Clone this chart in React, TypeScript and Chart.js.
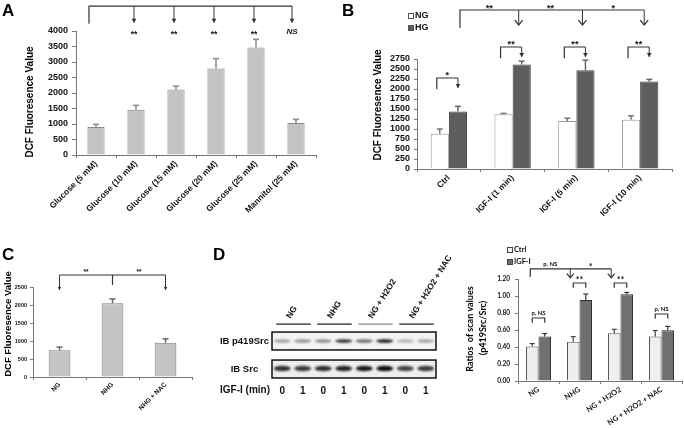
import React, { useEffect, useRef } from 'react';
import { Chart, registerables } from 'chart.js';

Chart.register(...registerables);

const SANS = '"Liberation Sans", Arial, Helvetica, sans-serif';
const CAL = 'Lato, "Liberation Sans", sans-serif';

// ---------------- Panel A ----------------
const aTitle = 'DCF Fluoresence Value';
const aLabels = ['Glucose (5 mM)', 'Glucose (10 mM)', 'Glucose (15 mM)', 'Glucose (20 mM)', 'Glucose (25 mM)', 'Mannitol (25 mM)'];
const aValues = [900, 1460, 2110, 2790, 3470, 1030];
const aErrors = [90, 140, 110, 320, 260, 120];
const aSig = ['**', '**', '**', '**', 'NS'];
const aMax = 4000;
const aStep = 500;

// ---------------- Panel B ----------------
const bTitle = 'DCF Fluoresence Value';
const bLabels = ['Ctrl', 'IGF-I (1 min)', 'IGF-I (5 min)', 'IGF-I (10 min)'];
const bSeries = ['NG', 'HG'];
const bNG = [880, 1370, 1200, 1230];
const bNGErr = [120, 20, 70, 100];
const bHG = [1440, 2610, 2470, 2190];
const bHGErr = [125, 85, 250, 50];
const bPairSig = ['*', '**', '**', '**'];
const bTrendSig = ['**', '**', '*'];
const bMax = 2750;
const bStep = 250;

// ---------------- Panel C ----------------
const cTitle = 'DCF Fluoresence Value';
const cLabels = ['NG', 'NHG', 'NHG + NAC'];
const cValues = [740, 2050, 950];
const cErrors = [90, 120, 110];
const cSig = ['**', '**'];
const cMax = 2500;
const cStep = 500;

// ---------------- Panel D blot ----------------
const blotGroups = ['NG', 'NHG', 'NG + H2O2', 'NG + H2O2 + NAC'];
const blotRows = ['IB p419Src', 'IB Src'];
const blotLanes = ['0', '1', '0', '1', '0', '1', '0', '1'];
const blotDoseTitle = 'IGF-I (min)';
const p419Src = [0.35, 0.42, 0.45, 0.85, 0.6, 0.95, 0.28, 0.35];
const totalSrc = [0.85, 0.8, 0.85, 0.9, 0.95, 1.0, 0.75, 0.8];

// ---------------- Panel D chart ----------------
const dTitle = ['Ratios  of scan values', '(p419Src/Src)'];
const dLabels = ['NG', 'NHG', 'NG + H2O2', 'NG + H2O2 + NAC'];
const dSeries = ['Ctrl', 'IGF-I'];
const dCtrl = [0.405, 0.462, 0.563, 0.523];
const dCtrlErr = [0.035, 0.06, 0.045, 0.07];
const dIGF = [0.523, 0.953, 1.022, 0.598];
const dIGFErr = [0.035, 0.07, 0.02, 0.045];
const dPairSig = ['p, NS', '**', '**', 'p, NS'];
const dTrendSig = ['p, NS', '*'];
const dMax = 1.2;
const dStep = 0.2;

// ---------------- drawing helpers ----------------
const fnt = (size: number, family = SANS, style = 'bold') => `${style} ${size}px ${family}`;

function text(ctx: any, s: string, x: number, y: number, f: string, o: any = {}) {
  ctx.save();
  ctx.font = f;
  ctx.fillStyle = o.color ?? '#111';
  ctx.textAlign = o.align ?? 'center';
  ctx.textBaseline = o.baseline ?? 'middle';
  ctx.translate(x, y);
  if (o.rotate) ctx.rotate(o.rotate);
  ctx.fillText(s, 0, 0);
  ctx.restore();
}

function sig(ctx: any, s: string, x: number, yc: number, f: string, size: number) {
  const stars = /^\*+$/.test(s);
  text(ctx, s, x, stars ? yc + 0.62 * size : yc, f, { baseline: stars ? 'alphabetic' : 'middle' });
}

function path(ctx: any, pts: number[][], color = '#333', w = 1) {
  ctx.save();
  ctx.strokeStyle = color;
  ctx.lineWidth = w;
  ctx.beginPath();
  pts.forEach(([x, y], i) => (i ? ctx.lineTo(x, y) : ctx.moveTo(x, y)));
  ctx.stroke();
  ctx.restore();
}

function arrowDown(ctx: any, x: number, y0: number, y1: number, kind: string, color = '#333', size = 4) {
  path(ctx, [[x, y0], [x, y1]], color, 1);
  if (kind === 'filled') {
    ctx.save();
    ctx.fillStyle = color;
    ctx.beginPath();
    ctx.moveTo(x - size * 0.6, y1 - size);
    ctx.lineTo(x + size * 0.6, y1 - size);
    ctx.lineTo(x, y1);
    ctx.closePath();
    ctx.fill();
    ctx.restore();
  } else if (kind === 'open') {
    path(ctx, [[x - size, y1 - size * 1.2], [x, y1], [x + size, y1 - size * 1.2]], color, 1.2);
  }
}

function letter(ctx: any, s: string, x: number, y: number) {
  text(ctx, s, x, y, fnt(17), { align: 'left', baseline: 'alphabetic', color: '#000' });
}

const errorBars = {
  id: 'errorBars',
  afterDatasetsDraw(chart: any) {
    const ctx = chart.ctx;
    const ys = chart.scales.y;
    chart.data.datasets.forEach((ds: any, di: number) => {
      if (!ds.errors) return;
      const meta = chart.getDatasetMeta(di);
      meta.data.forEach((bar: any, i: number) => {
        const v = ds.data[i];
        const top = ys.getPixelForValue(v + ds.errors[i]);
        const base = ys.getPixelForValue(v);
        const cap = ds.errorCap ?? 3;
        path(ctx, [[bar.x, base], [bar.x, top]], ds.errorColor, ds.errorWidth ?? 1.5);
        path(ctx, [[bar.x - cap, top], [bar.x + cap, top]], ds.errorColor, ds.errorWidth ?? 1.5);
      });
    });
  },
};

function baseOptions(o: any) {
  const yTicks: any = {
    stepSize: o.yStep,
    maxTicksLimit: 30,
    autoSkip: false,
    padding: o.tickPad,
    color: '#111',
    font: { family: o.family, size: o.tick, weight: 'bold' },
    callback: o.fmt ?? ((v: any) => String(v)),
  };
  return {
    responsive: false,
    animation: false,
    devicePixelRatio: 1,
    events: [],
    layout: { padding: { top: o.padTop, right: o.padRight, left: 0, bottom: 0 } },
    plugins: { legend: { display: false }, tooltip: { enabled: false }, title: { display: false } },
    scales: {
      x: {
        afterFit: (s: any) => { s.height = o.xHeight; },
        grid: { drawOnChartArea: false, offset: true, tickLength: 3, color: '#777', lineWidth: 1 },
        border: { color: '#777', width: 1 },
        ticks: {
          autoSkip: false,
          minRotation: o.rot,
          maxRotation: o.rot,
          padding: 1,
          color: '#111',
          font: { family: o.family, size: o.label, weight: 'bold' },
        },
      },
      y: {
        min: 0,
        max: o.yMax,
        afterFit: (s: any) => { s.width = o.yWidth; },
        grid: { drawOnChartArea: false, tickLength: o.tl, color: '#777', lineWidth: 1 },
        border: { color: '#777', width: 1 },
        ticks: yTicks,
      },
    },
  };
}

// ---------------- configs ----------------
const configA = () => ({
  type: 'bar',
  data: {
    labels: aLabels,
    datasets: [{
      data: aValues, errors: aErrors, backgroundColor: '#c4c4c4', borderColor: '#8a8a8a', borderWidth: 1,
      errorColor: '#8a8a8a', errorCap: 3, barPercentage: 0.43, categoryPercentage: 1,
    }],
  },
  options: baseOptions({ padTop: 31, padRight: 24, yWidth: 76, xHeight: 65, yMax: aMax, yStep: aStep, tick: 9, label: 8.5, rot: 45, family: SANS, tl: 4, tickPad: 4 }),
  plugins: [errorBars, {
    id: 'annA',
    afterDraw(chart: any) {
      const ctx = chart.ctx, xs = chart.scales.x, ys = chart.scales.y;
      letter(ctx, 'A', 2, 16);
      text(ctx, aTitle, 30, 102, fnt(10), { rotate: -Math.PI / 2, color: '#000' });
      const px = aLabels.map((_, i) => xs.getPixelForValue(i));
      const yl = ys.getPixelForValue(4800), yf = ys.getPixelForValue(4230), yt = ys.getPixelForValue(4270), yS = ys.getPixelForValue(3990);
      const ax = px.map((x, i) => (i === 0 ? x - 7 : x - 2 - (i === 5 ? 2 : 0)));
      path(ctx, [[ax[0], yf], [ax[0], yl], [ax[5], yl]], '#333', 1.2);
      for (let i = 1; i < 6; i++) {
        arrowDown(ctx, ax[i], yl, yt, 'filled', '#333', 4);
        const s = aSig[i - 1];
        if (s === 'NS') text(ctx, s, ax[i], yS, fnt(8, SANS, 'italic bold'));
        else sig(ctx, s, ax[i], yS, fnt(8.5), 8.5);
      }
    },
  }],
});

const configB = () => ({
  type: 'bar',
  data: {
    labels: bLabels,
    datasets: [
      { label: bSeries[0], data: bNG, errors: bNGErr, backgroundColor: '#ffffff', borderColor: '#9a9a9a', borderWidth: 1, errorColor: '#777', errorCap: 3, barPercentage: 1, categoryPercentage: 0.57 },
      { label: bSeries[1], data: bHG, errors: bHGErr, backgroundColor: '#5e5e5e', borderColor: '#404040', borderWidth: 1, errorColor: '#666', errorCap: 3, barPercentage: 1, categoryPercentage: 0.57 },
    ],
  },
  options: baseOptions({ padTop: 59, padRight: 12, yWidth: 77, xHeight: 51, yMax: bMax, yStep: bStep, tick: 9, label: 8.5, rot: 45, family: SANS, tl: 3, tickPad: 4 }),
  plugins: [errorBars, {
    id: 'annB',
    afterDraw(chart: any) {
      const ctx = chart.ctx, ys = chart.scales.y;
      letter(ctx, 'B', 2, 16);
      chart.data.datasets.forEach((ds: any, i: number) => {
        const y = 16 + i * 12;
        ctx.save();
        ctx.fillStyle = ds.backgroundColor;
        ctx.fillRect(68.5, y - 2.5, 5, 5);
        ctx.strokeStyle = '#555';
        ctx.lineWidth = 1;
        ctx.strokeRect(68.5, y - 2.5, 5, 5);
        ctx.restore();
        text(ctx, ds.label, 75, y, fnt(9), { align: 'left' });
      });
      text(ctx, bTitle, 38, 105, fnt(10), { rotate: -Math.PI / 2, color: '#000' });
      const ng = chart.getDatasetMeta(0).data, hg = chart.getDatasetMeta(1).data;
      const yl = ys.getPixelForValue(3975), yf = ys.getPixelForValue(3525), yt = ys.getPixelForValue(3600), yS = ys.getPixelForValue(4100);
      const ax = [hg[0].x + 2, hg[1].x - 3, hg[2].x - 3, hg[3].x - 5];
      path(ctx, [[ax[0], yf], [ax[0], yl], [ax[3], yl]], '#333', 1.2);
      for (let i = 1; i < 4; i++) arrowDown(ctx, ax[i], yl, yt, 'open', '#333', 4);
      bTrendSig.forEach((s, i) => sig(ctx, s, (ax[i] + ax[i + 1]) / 2, yS, fnt(9), 9));
      const lv = [2275, 3050, 3050, 3050];
      bPairSig.forEach((s, i) => {
        const L = ys.getPixelForValue(lv[i]), F = ys.getPixelForValue(lv[i] - 280), T = ys.getPixelForValue(lv[i] - 250), S = ys.getPixelForValue(lv[i] + 140);
        const x0 = ng[i].x - 3, x1 = hg[i].x;
        path(ctx, [[x0, F], [x0, L], [x1, L]], '#333', 1.2);
        arrowDown(ctx, x1, L, T, 'filled', '#333', 4);
        sig(ctx, s, (x0 + x1) / 2, S, fnt(9), 9);
      });
    },
  }],
});

const configC = () => ({
  type: 'bar',
  data: {
    labels: cLabels,
    datasets: [{
      data: cValues, errors: cErrors, backgroundColor: '#c4c4c4', borderColor: '#7f7f7f', borderWidth: 1,
      errorColor: '#666', errorCap: 3, barPercentage: 0.41, categoryPercentage: 1,
    }],
  },
  options: baseOptions({ padTop: 67, padRight: 8, yWidth: 33, xHeight: 51, yMax: cMax, yStep: cStep, tick: 5.5, label: 6.5, rot: 45, family: SANS, tl: 3, tickPad: 3 }),
  plugins: [errorBars, {
    id: 'annC',
    afterDraw(chart: any) {
      const ctx = chart.ctx, xs = chart.scales.x, ys = chart.scales.y;
      letter(ctx, 'C', 2, 40);
      text(ctx, cTitle, 8, 104, fnt(9.5), { rotate: -Math.PI / 2, color: '#000' });
      const px = cLabels.map((_, i) => xs.getPixelForValue(i));
      const yl = ys.getPixelForValue(2833), ym = ys.getPixelForValue(2555), yt = ys.getPixelForValue(2417), yS = ys.getPixelForValue(2960);
      path(ctx, [[px[0], yl], [px[2], yl]], '#333', 1);
      path(ctx, [[px[1], yl], [px[1], ym]], '#333', 1.2);
      arrowDown(ctx, px[0], yl, yt, 'filled', '#333', 3);
      arrowDown(ctx, px[2], yl, yt, 'filled', '#333', 3);
      cSig.forEach((s, i) => sig(ctx, s, (px[i] + px[i + 1]) / 2, yS, fnt(6.5), 6.5));
    },
  }],
});

const configBlot = () => ({
  type: 'scatter',
  data: { datasets: [] },
  options: {
    responsive: false,
    animation: false,
    devicePixelRatio: 1,
    events: [],
    layout: { padding: { top: 107, right: 24, left: 0, bottom: 0 } },
    plugins: { legend: { display: false }, tooltip: { enabled: false } },
    scales: {
      x: {
        type: 'category', labels: blotLanes, offset: true,
        afterFit: (s: any) => { s.height = 45; },
        grid: { display: false, drawTicks: false }, border: { display: false },
        ticks: { padding: 2, autoSkip: false, maxRotation: 0, color: '#111', font: { family: SANS, size: 10, weight: 'bold' } },
      },
      y: {
        type: 'category', labels: blotRows, offset: true,
        afterFit: (s: any) => { s.width = 72; },
        grid: { display: false, drawTicks: false }, border: { display: false },
        ticks: { crossAlign: 'center', padding: 3, color: '#111', font: { family: SANS, size: 9.5, weight: 'bold' } },
      },
    },
  },
  plugins: [{
    id: 'blot',
    afterDraw(chart: any) {
      const ctx = chart.ctx, xs = chart.scales.x, ys = chart.scales.y, ca = chart.chartArea;
      letter(ctx, 'D', 13, 40);
      const rowH = Math.abs(ys.getPixelForValue(1) - ys.getPixelForValue(0));
      const half = rowH * 0.32;
      const rows = [p419Src, totalSrc];
      rows.forEach((arr, r) => {
        const cy = ys.getPixelForValue(r);
        ctx.save();
        ctx.fillStyle = r === 0 ? '#f3f3f3' : '#eeeeee';
        ctx.fillRect(ca.left, cy - half, ca.right - ca.left, 2 * half);
        ctx.restore();
        arr.forEach((v, i) => {
          const cx = xs.getPixelForValue(i);
          ctx.save();
          ctx.filter = 'blur(0.8px)';
          ctx.fillStyle = `rgba(15,15,15,${v})`;
          ctx.beginPath();
          ctx.ellipse(cx, cy + (r === 0 ? 0 : -0.5), 8.5, r === 0 ? 1.7 : 2.8, 0, 0, Math.PI * 2);
          ctx.fill();
          ctx.restore();
        });
        ctx.save();
        ctx.strokeStyle = '#111';
        ctx.lineWidth = 1.5;
        ctx.strokeRect(ca.left, cy - half, ca.right - ca.left, 2 * half);
        ctx.restore();
      });
      const boxTop = ys.getPixelForValue(0) - half;
      blotGroups.forEach((g, k) => {
        const x0 = xs.getPixelForValue(2 * k) - 6, x1 = xs.getPixelForValue(2 * k + 1) + 8;
        const y = boxTop - 8;
        path(ctx, [[x0, y], [x1, y]], k === 2 ? '#888' : '#222', 1.2);
        text(ctx, g, (x0 + x1) / 2 - 3, y - 5, fnt(8.5), { align: 'left', baseline: 'alphabetic', rotate: -58 * Math.PI / 180 });
      });
      text(ctx, blotDoseTitle, ca.left - 2, xs.top + 2, fnt(10), { align: 'right', baseline: 'top' });
    },
  }],
});

const configD = () => ({
  type: 'bar',
  data: {
    labels: dLabels,
    datasets: [
      { label: dSeries[0], data: dCtrl, errors: dCtrlErr, backgroundColor: '#efefef', borderColor: '#555', borderWidth: 1, errorColor: '#444', errorCap: 2.5, errorWidth: 1.2, barPercentage: 1, categoryPercentage: 0.61 },
      { label: dSeries[1], data: dIGF, errors: dIGFErr, backgroundColor: '#707070', borderColor: '#333', borderWidth: 1, errorColor: '#333', errorCap: 2.5, errorWidth: 1.2, barPercentage: 1, categoryPercentage: 0.61 },
    ],
  },
  options: baseOptions({ padTop: 59, padRight: 2, yWidth: 58, xHeight: 47, yMax: dMax, yStep: dStep, tick: 6.5, label: 7.5, rot: 33, family: CAL, tl: 3, tickPad: 5, fmt: (v: any) => Number(v).toFixed(2) }),
  plugins: [errorBars, {
    id: 'annD',
    afterDraw(chart: any) {
      const ctx = chart.ctx, ys = chart.scales.y;
      chart.data.datasets.forEach((ds: any, i: number) => {
        const y = 30 + i * 12;
        ctx.save();
        ctx.fillStyle = ds.backgroundColor;
        ctx.fillRect(47.5, y - 2.5, 5, 5);
        ctx.strokeStyle = '#444';
        ctx.lineWidth = 1;
        ctx.strokeRect(47.5, y - 2.5, 5, 5);
        ctx.restore();
        text(ctx, ds.label, 54, y, fnt(7.5, CAL), { align: 'left' });
      });
      text(ctx, dTitle[0], 10, 109, fnt(9, CAL), { rotate: -Math.PI / 2, color: '#000' });
      text(ctx, dTitle[1], 23, 108, fnt(9, CAL), { rotate: -Math.PI / 2, color: '#000' });
      const c = chart.getDatasetMeta(0).data, g = chart.getDatasetMeta(1).data;
      const yl = ys.getPixelForValue(1.318), yf = ys.getPixelForValue(1.224), yt = ys.getPixelForValue(1.215), yS = ys.getPixelForValue(1.37);
      const ax = [c[0].x - 2, c[1].x - 3, c[2].x - 3];
      path(ctx, [[ax[0], yf], [ax[0], yl], [ax[2], yl]], '#333', 1.2);
      arrowDown(ctx, ax[1], yl, yt, 'open', '#333', 3.5);
      arrowDown(ctx, ax[2], yl, yt, 'open', '#333', 3.5);
      dTrendSig.forEach((s, i) => {
        const x = (ax[i] + ax[i + 1]) / 2;
        if (s === 'p, NS') text(ctx, s, x, yS, fnt(6, CAL));
        else sig(ctx, s, x, yS, fnt(9, CAL), 9);
      });
      const lv = [0.741, 1.153, 1.153, 0.788];
      dPairSig.forEach((s, i) => {
        const L = ys.getPixelForValue(lv[i]), F = ys.getPixelForValue(lv[i] - 0.055), S = ys.getPixelForValue(lv[i] + 0.06);
        const x0 = c[i].x, x1 = g[i].x;
        path(ctx, [[x0, F], [x0, L], [x1, L], [x1, F]], '#333', 1.2);
        if (s === 'p, NS') text(ctx, s, (x0 + x1) / 2, S, fnt(6, CAL));
        else sig(ctx, s, (x0 + x1) / 2, S, fnt(9, CAL), 9);
      });
    },
  }],
});

// ---------------- components ----------------
function Panel({ left, top, width, height, make }: any) {
  const ref = useRef<HTMLCanvasElement>(null);
  useEffect(() => {
    const chart = new Chart(ref.current as any, make());
    return () => chart.destroy();
  }, []);
  return (
    <div style={{ position: 'absolute', left, top, width, height }}>
      <canvas ref={ref} width={width} height={height} style={{ width, height, display: 'block' }} />
    </div>
  );
}

export default function App() {
  return (
    <div style={{ position: 'fixed', left: 0, top: 0, width: 684, height: 428, background: '#fff', overflow: 'hidden' }}>
      <Panel left={0} top={0} width={340} height={220} make={configA} />
      <Panel left={340} top={0} width={344} height={220} make={configB} />
      <Panel left={0} top={220} width={200} height={208} make={configC} />
      <Panel left={200} top={220} width={260} height={208} make={configBlot} />
      <Panel left={460} top={220} width={224} height={208} make={configD} />
    </div>
  );
}
